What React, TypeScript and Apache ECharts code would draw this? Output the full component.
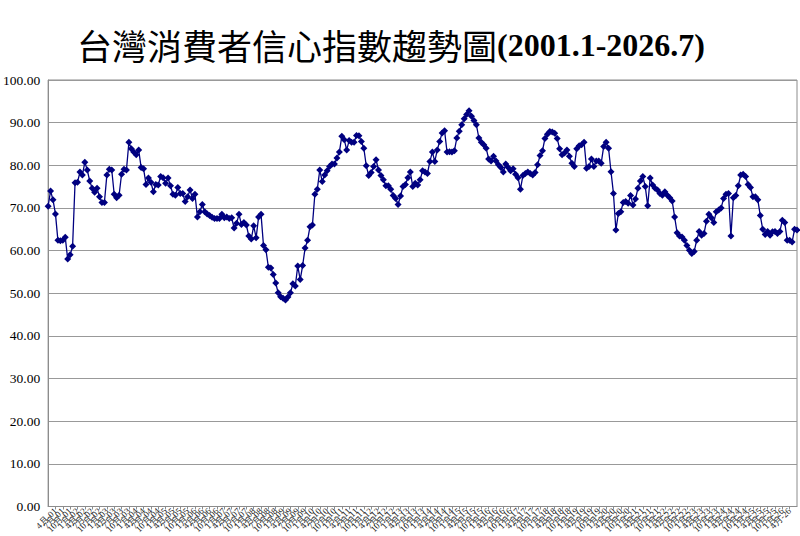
import { useEffect, useRef } from "react";
import * as echarts from "echarts";

// 台灣消費者信心指數 monthly
const cci2001_2005 = [
  70.4, 74.0, 71.9, 68.6, 62.4, 62.3, 62.4, 63.1, 58.0, 59.0, 61.0, 75.9,
  76.0, 78.4, 77.7, 80.7, 78.9, 76.3, 74.6, 73.7, 74.6, 72.6, 71.3, 71.3,
  77.7, 79.1, 78.9, 73.2, 72.4, 73.0, 77.9, 79.1, 78.9, 85.4, 83.9, 83.1,
  82.5, 83.6, 79.5, 79.2, 75.5, 77.0, 76.0, 73.8, 75.5, 75.4, 77.4, 77.1,
  75.8, 77.0, 75.2, 73.2, 73.0, 74.8, 73.4, 73.4, 71.5, 72.6, 74.2, 72.2,
];
const cci2006_2010 = [
  73.2, 67.9, 69.1, 70.8, 69.1, 68.6, 68.2, 67.8, 67.5, 67.5, 67.5, 68.5,
  67.7, 67.9, 67.5, 67.7, 65.3, 66.4, 68.5, 66.1, 66.6, 66.0, 63.4, 62.7,
  65.8, 63.0, 67.9, 68.5, 61.2, 60.2, 56.1, 55.9, 54.4, 52.4, 50.1, 49.2,
  48.8, 48.4, 49.1, 50.1, 52.2, 51.7, 56.4, 53.2, 56.5, 60.6, 62.4, 65.6,
  66.0, 73.2, 74.4, 78.9, 76.2, 77.7, 78.7, 79.7, 80.3, 80.3, 81.7, 83.1,
];
const cci2011_2015 = [
  86.8, 86.0, 83.6, 85.8, 85.4, 85.4, 87.0, 86.9, 85.6, 84.0, 79.9, 77.6,
  78.3, 79.7, 81.3, 78.9, 77.6, 76.6, 75.2, 75.2, 74.4, 72.9, 72.2, 70.8,
  72.8, 75.0, 75.5, 77.1, 78.4, 75.0, 75.8, 75.4, 76.6, 78.7, 78.4, 78.1,
  80.9, 83.1, 80.9, 83.6, 85.6, 87.6, 88.1, 83.1, 83.2, 83.1, 83.4, 86.4,
  88.0, 89.5, 90.9, 91.9, 92.8, 91.5, 90.5, 89.5, 86.4, 85.4, 84.8, 84.0,
];
const cci2016_2020 = [
  81.5, 81.0, 82.1, 81.0, 80.1, 79.5, 78.4, 80.3, 79.5, 78.7, 79.2, 77.9,
  77.1, 74.4, 77.6, 78.1, 78.4, 78.1, 77.7, 78.3, 80.1, 82.3, 83.4, 86.3,
  87.3, 87.9, 87.8, 87.5, 86.3, 83.9, 82.5, 82.9, 83.6, 82.1, 80.5, 79.7,
  83.9, 84.6, 84.8, 85.4, 79.3, 79.7, 81.5, 79.7, 81.0, 81.0, 80.5, 84.4,
  85.4, 84.0, 78.5, 73.4, 64.8, 68.7, 69.1, 71.3, 71.5, 71.1, 72.9, 70.7,
];
const cci2021_2026 = [
  72.1, 74.6, 76.3, 77.4, 75.0, 70.5, 77.0, 75.4, 74.6, 74.2, 73.4, 73.0,
  73.8, 73.0, 72.4, 71.6, 67.9, 64.2, 63.4, 63.2, 62.4, 61.2, 60.1, 59.3,
  59.8, 62.4, 64.5, 63.6, 64.0, 66.9, 68.5, 67.7, 66.6, 69.1, 69.5, 70.0,
  72.2, 73.2, 73.4, 63.4, 72.4, 72.9, 75.2, 77.7, 77.9, 77.4, 75.5, 74.8,
  72.6, 72.6, 71.9, 68.2, 65.0, 63.8, 64.5, 63.6, 64.4, 64.5, 64.0, 64.5,
  67.1, 66.6, 62.4, 62.4, 62.0, 65.0, 64.8,
];

const cciValues = [
  ...cci2001_2005,
  ...cci2006_2010,
  ...cci2011_2015,
  ...cci2016_2020,
  ...cci2021_2026,
];

const startYear = 2001;
const monthLabels = cciValues.map((_, i) => {
  const yy = String((startYear + Math.floor(i / 12)) % 100).padStart(2, "0");
  return `${(i % 12) + 1}月-${yy}`;
});

const yTicks = [0, 10, 20, 30, 40, 50, 60, 70, 80, 90, 100];

export default function App() {
  const chartRef = useRef<HTMLDivElement | null>(null);

  useEffect(() => {
    if (!chartRef.current) return;
    const chart = echarts.init(chartRef.current, null, { renderer: "svg" });

    chart.setOption({
      animation: false,
      backgroundColor: "#ffffff",
      title: {
        text: "{a|台灣消費者信心指數趨勢圖}{b|(2001.1-2026.7)}",
        left: 72,
        top: 22,
        textStyle: {
          rich: {
            a: {
              fontFamily: "Noto Sans CJK TC",
              fontSize: 35,
              fontWeight: "normal",
              color: "#000",
            },
            b: {
              fontFamily: "Liberation Serif",
              fontSize: 32,
              fontWeight: "bold",
              color: "#000",
            },
          },
        },
      },
      grid: {
        left: 46,
        right: 3,
        top: 80,
        bottom: 29,
        show: true,
        borderColor: "#8c8c8c",
        borderWidth: 1,
      },
      xAxis: {
        type: "category",
        data: monthLabels,
        boundaryGap: false,
        axisLine: { lineStyle: { color: "#8c8c8c" } },
        axisTick: { interval: 2, length: 3, lineStyle: { color: "#8c8c8c" } },
        axisLabel: {
          interval: 2,
          rotate: 45,
          fontSize: 9,
          color: "#222",
          margin: 3,
          fontFamily: "Liberation Serif",
        },
      },
      yAxis: {
        type: "value",
        min: yTicks[0],
        max: yTicks[yTicks.length - 1],
        interval: 10,
        axisLine: { show: true, lineStyle: { color: "#8c8c8c" } },
        axisTick: { show: false },
        splitLine: { lineStyle: { color: "#999999", width: 1 } },
        axisLabel: {
          formatter: (v: number) => v.toFixed(2),
          fontFamily: "Liberation Serif",
          fontSize: 13.5,
          color: "#000",
          margin: 8,
        },
      },
      series: [
        {
          name: "消費者信心指數",
          type: "line",
          data: cciValues,
          symbol: "diamond",
          symbolSize: 7,
          showAllSymbol: true,
          itemStyle: { color: "#000080" },
          lineStyle: { color: "#000080", width: 1.3 },
        },
      ],
    });

    return () => {
      chart.dispose();
    };
  }, []);

  return (
    <div
      ref={chartRef}
      style={{ position: "fixed", left: 0, top: 0, width: 800, height: 536 }}
    />
  );
}
